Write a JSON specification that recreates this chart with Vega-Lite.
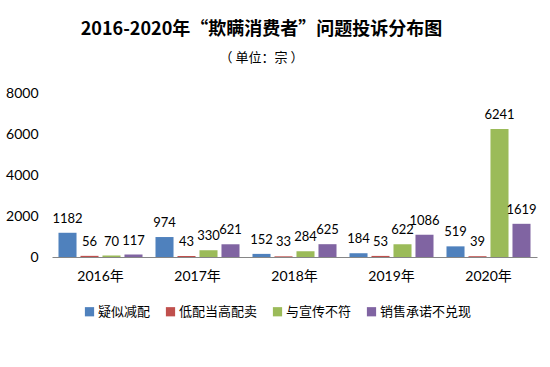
{
  "$schema": "https://vega.github.io/schema/vega-lite/v6.json",
  "width": 485,
  "height": 164,
  "autosize": {"type": "none"},
  "padding": {"left": 52, "top": 93, "right": 13, "bottom": 110},
  "background": "white",
  "title": {
    "text": "2016-2020年“欺瞒消费者”问题投诉分布图",
    "subtitle": "（ 单位：宗 ）",
    "anchor": "middle",
    "frame": "group",
    "dx": -33,
    "offset": 21,
    "font": "Noto Sans CJK SC",
    "fontSize": 18,
    "fontWeight": "bold",
    "color": "#000000",
    "subtitleFont": "Noto Sans CJK SC",
    "subtitleFontSize": 13,
    "subtitleColor": "#000000",
    "subtitlePadding": 13
  },
  "config": {
    "view": {"stroke": null},
    "font": "Lato, Noto Sans CJK SC"
  },
  "data": {
    "values": [
      {"year": "2016年", "series": "疑似减配", "value": 1182},
      {"year": "2016年", "series": "低配当高配卖", "value": 56},
      {"year": "2016年", "series": "与宣传不符", "value": 70},
      {"year": "2016年", "series": "销售承诺不兑现", "value": 117},
      {"year": "2017年", "series": "疑似减配", "value": 974},
      {"year": "2017年", "series": "低配当高配卖", "value": 43},
      {"year": "2017年", "series": "与宣传不符", "value": 330},
      {"year": "2017年", "series": "销售承诺不兑现", "value": 621},
      {"year": "2018年", "series": "疑似减配", "value": 152},
      {"year": "2018年", "series": "低配当高配卖", "value": 33},
      {"year": "2018年", "series": "与宣传不符", "value": 284},
      {"year": "2018年", "series": "销售承诺不兑现", "value": 625},
      {"year": "2019年", "series": "疑似减配", "value": 184},
      {"year": "2019年", "series": "低配当高配卖", "value": 53},
      {"year": "2019年", "series": "与宣传不符", "value": 622},
      {"year": "2019年", "series": "销售承诺不兑现", "value": 1086},
      {"year": "2020年", "series": "疑似减配", "value": 519},
      {"year": "2020年", "series": "低配当高配卖", "value": 39},
      {"year": "2020年", "series": "与宣传不符", "value": 6241},
      {"year": "2020年", "series": "销售承诺不兑现", "value": 1619}
    ]
  },
  "encoding": {
    "x": {
      "field": "year",
      "type": "nominal",
      "sort": null,
      "scale": {"paddingInner": 0, "paddingOuter": 0},
      "axis": {
        "title": null,
        "labelAngle": 0,
        "labelFontSize": 14,
        "labelColor": "#000000",
        "labelPadding": 12,
        "ticks": false,
        "domainColor": "#868686",
        "domainWidth": 1
      }
    },
    "xOffset": {
      "field": "series",
      "type": "nominal",
      "sort": ["疑似减配", "低配当高配卖", "与宣传不符", "销售承诺不兑现"],
      "scale": {"paddingInner": 0.18, "paddingOuter": 0.295}
    },
    "y": {
      "field": "value",
      "type": "quantitative",
      "scale": {"domain": [0, 8000], "nice": false},
      "axis": {
        "title": null,
        "values": [0, 2000, 4000, 6000, 8000],
        "format": "d",
        "grid": false,
        "domain": false,
        "ticks": false,
        "labelFontSize": 14,
        "labelColor": "#000000",
        "labelPadding": 14
      }
    }
  },
  "layer": [
    {
      "mark": {"type": "bar"},
      "encoding": {
        "color": {
          "field": "series",
          "type": "nominal",
          "sort": ["疑似减配", "低配当高配卖", "与宣传不符", "销售承诺不兑现"],
          "scale": {
            "domain": ["疑似减配", "低配当高配卖", "与宣传不符", "销售承诺不兑现"],
            "range": ["#4F81BD", "#C0504D", "#9BBB59", "#8064A2"]
          },
          "legend": {
            "title": null,
            "orient": "none",
            "direction": "horizontal",
            "legendX": 31,
            "legendY": 212,
            "padding": 0,
            "symbolType": "square",
            "symbolSize": 85,
            "symbolStrokeWidth": 0,
            "labelFont": "Noto Sans CJK SC",
            "labelFontSize": 13,
            "labelColor": "#000000",
            "labelOffset": 2,
            "columnPadding": 13
          }
        }
      }
    },
    {
      "mark": {"type": "text", "baseline": "bottom", "dy": -7, "fontSize": 13, "color": "#000000"},
      "encoding": {
        "text": {"field": "value", "type": "quantitative", "format": "d"}
      }
    }
  ]
}
